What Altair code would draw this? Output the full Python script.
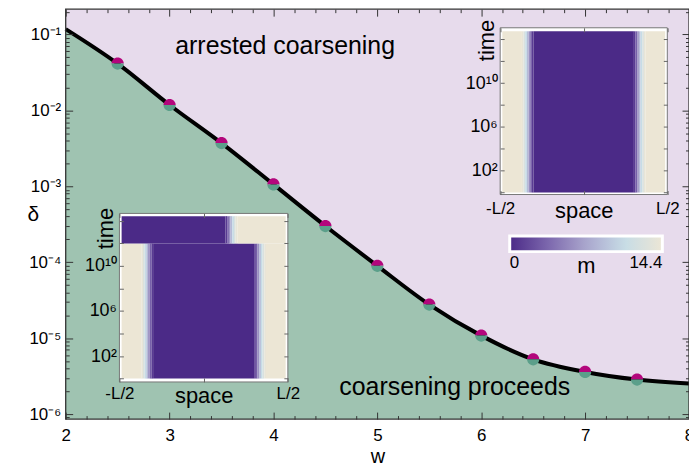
import math
import pandas as pd
import altair as alt

FONT = "Liberation Sans, Arial, Helvetica, sans-serif"

# ---------------- main diagram data ----------------
w_curve = [2.0, 2.5, 3.0, 3.5, 4.0, 4.5, 5.0, 5.5, 6.0, 6.5, 7.0, 7.5, 8.0]
delta_curve = [0.118, 0.0414, 0.0118, 0.00371, 0.00106, 0.000300, 8.97e-5,
               2.77e-5, 1.08e-5, 5.26e-6, 3.59e-6, 2.85e-6, 2.52e-6]

w_points = [2.5, 3.0, 3.5, 4.0, 4.5, 5.0, 5.5, 6.0, 6.5, 7.0, 7.5]
delta_points = [0.0414, 0.0118, 0.00371, 0.00106, 0.000300, 8.97e-5,
                2.77e-5, 1.08e-5, 5.26e-6, 3.59e-6, 2.85e-6]

region_labels = ["arrested coarsening", "coarsening proceeds"]
region_w = [4.112, 5.745]
region_delta = [0.0560, 1.77e-6]

w_domain = [2.0, 8.0]
delta_domain = [8.59e-7, 0.2158]
w_ticks = [2, 3, 4, 5, 6, 7, 8]
w_minor = [2.2, 2.4, 2.6, 2.8, 3.2, 3.4, 3.6, 3.8, 4.2, 4.4, 4.6, 4.8,
           5.2, 5.4, 5.6, 5.8, 6.2, 6.4, 6.6, 6.8, 7.2, 7.4, 7.6, 7.8]
delta_ticks = [1e-1, 1e-2, 1e-3, 1e-4, 1e-5, 1e-6]
delta_tick_labels = ["10⁻¹", "10⁻²", "10⁻³", "10⁻⁴", "10⁻⁵", "10⁻⁶"]
delta_minor = [k * 10.0 ** e for e in range(-7, 0) for k in range(2, 10)
               if delta_domain[0] <= k * 10.0 ** e <= delta_domain[1]]

# ---------------- inset data ----------------
space_label_ticks = [-0.5, 0.5]
space_tick_labels = ["-L/2", "L/2"]
space_ticks = [-0.5, 0.0, 0.5]
time_label_ticks = [1e2, 1e6, 1e10]
time_tick_labels = ["10²", "10⁶", "10¹⁰"]
time_ticks = [1e0, 1e2, 1e4, 1e6, 1e8, 1e10, 1e12, 1e14]

# spatial profiles of m (cell edges in units of L, value per cell)
profile_edges = [-0.487, -0.37, -0.36, -0.35, -0.34, -0.33, -0.32, -0.31, -0.30,
                 0.30, 0.31, 0.32, 0.33, 0.34, 0.35, 0.36, 0.37, 0.487]
profile_m = [14.4, 14.0, 12.6, 10.8, 8.6, 6.0, 3.2, 1.0, 0.0,
             1.0, 3.2, 6.0, 8.6, 10.8, 12.6, 14.0, 14.4]
late_edges = [-0.487, 0.13, 0.14, 0.15, 0.16, 0.17, 0.18, 0.19, 0.20, 0.487]
late_m = [0.0, 1.0, 3.2, 6.0, 8.6, 10.8, 12.6, 14.0, 14.4]

inset1_times = [1.0, 1e12, 10 ** 14.42]      # band edges: early profile, late profile
inset2_times = [1.0, 10 ** 14.73]

m_domain = [0.0, 3.6, 7.2, 10.8, 14.4]
m_colors = ["#4b2a87", "#7c67ad", "#aaa6cd", "#c6dce6", "#ece6d5"]

# ---------------- geometry ----------------
W, H = 626.5, 412
I1X, I1Y = [54.0, 223.3], [374.7, 205.3]
I2X, I2Y = [436.7, 604.7], [186.3, 18.7]
I1_TDOM = [10 ** -0.3, 10 ** 14.66]
I2_TDOM = [10 ** -0.18, 10 ** 15.05]

GREEN = "#9fc3b1"
LAV = "#e7dbec"
FRAME = "#333333"


def log_label_expr(values, labels):
    parts = ["round(log(datum.value)/LN10) == %d ? '%s'" % (round(math.log10(v)), l)
             for v, l in zip(values, labels)]
    return " : ".join(parts) + " : ''"


def lin_label_expr(values, labels):
    parts = ["abs(datum.value - (%g)) < 1e-6 ? '%s'" % (v, l) for v, l in zip(values, labels)]
    return " : ".join(parts) + " : ''"


def tick_axis(orient, offset, values, size, color=FRAME):
    return alt.Axis(orient=orient, offset=offset, values=values, labels=False,
                    domain=False, ticks=True, tickSize=size, tickColor=color,
                    tickWidth=1, grid=False, title=None, zindex=1)


# ---------------- data frames ----------------
curve_df = pd.DataFrame({"w": w_curve, "delta": delta_curve})
curve_df["base"] = delta_domain[0]
pts_df = pd.DataFrame({"w": w_points, "delta": delta_points})
txt_df = pd.DataFrame({"w": region_w, "delta": region_delta, "label": region_labels})
frame_df = pd.DataFrame({"w0": [w_domain[0]], "w1": [w_domain[1]],
                         "d0": [delta_domain[0]], "d1": [delta_domain[1]]})


def cells(edges, m, t0, t1):
    return [{"s0": edges[i], "s1": edges[i + 1], "t0": t0, "t1": t1, "m": m[i]}
            for i in range(len(m))]


inset1_df = pd.DataFrame(cells(profile_edges, profile_m, inset1_times[0], inset1_times[1])
                         + cells(late_edges, late_m, inset1_times[1], inset1_times[2]))
inset2_df = pd.DataFrame(cells(profile_edges, profile_m, inset2_times[0], inset2_times[1]))
box1_df = pd.DataFrame({"s0": [-0.5], "s1": [0.5], "t0": [I1_TDOM[0]], "t1": [I1_TDOM[1]]})
box2_df = pd.DataFrame({"s0": [-0.5], "s1": [0.5], "t0": [I2_TDOM[0]], "t1": [I2_TDOM[1]]})

# ---------------- scales ----------------
xs = alt.Scale(domain=w_domain, nice=False, zero=False)
ys = alt.Scale(type="log", domain=delta_domain, nice=False)
cscale = alt.Scale(domain=m_domain, range=m_colors, interpolate="rgb")


def sx(rng):
    return alt.Scale(domain=[-0.5, 0.5], range=rng, nice=False, zero=False)


def sy(dom, rng):
    return alt.Scale(type="log", domain=dom, range=rng, nice=False)


# ---------------- main layers ----------------
x_lab = alt.Axis(orient="bottom", values=w_ticks, format="d", ticks=False, tickSize=0,
                 domain=False, labelPadding=9, labelFontSize=17, labelFlush=False, grid=False,
                 title="w", titleFontSize=20, titleY=44, titleBaseline="alphabetic", zindex=1)
y_lab = alt.Axis(orient="left", values=delta_ticks, labelExpr=log_label_expr(delta_ticks, delta_tick_labels),
                 ticks=False, tickSize=0, domain=False, labelPadding=5, labelFontSize=17,
                 labelFlush=False, grid=False,
                 title="δ", titleFontSize=21, titleAngle=0, titleX=-33, titleY=206,
                 titleAlign="center", titleBaseline="middle", zindex=1)

area = alt.Chart(curve_df).mark_area(interpolate="monotone", color=GREEN, opacity=1).encode(
    x=alt.X("w:Q", scale=xs, axis=x_lab),
    y=alt.Y("delta:Q", scale=ys, axis=y_lab),
    y2="base:Q",
)


def ghost(ax_x, ax_y):
    return alt.Chart(curve_df).mark_point(opacity=0).encode(
        x=alt.X("w:Q", scale=xs, axis=ax_x),
        y=alt.Y("delta:Q", scale=ys, axis=ax_y),
    )


main_ticks = [
    ghost(tick_axis("top", -H, w_ticks, 7), tick_axis("right", -W, delta_ticks, 7)),
    ghost(tick_axis("bottom", -H, w_ticks, 7), tick_axis("left", -W, delta_ticks, 7)),
    ghost(tick_axis("top", -H, w_minor, 3.5), tick_axis("right", -W, delta_minor, 3.5)),
    ghost(tick_axis("bottom", -H, w_minor, 3.5), tick_axis("left", -W, delta_minor, 3.5)),
]

line = alt.Chart(curve_df).mark_line(interpolate="monotone", color="black", strokeWidth=4).encode(
    x=alt.X("w:Q", scale=xs, axis=None),
    y=alt.Y("delta:Q", scale=ys, axis=None),
)

TOP_HALF = "M-1,0A1,1,0,0,1,1,0Z"
BOTTOM_HALF = "M-1,0A1,1,0,0,0,1,0Z"
pts_top = alt.Chart(pts_df).mark_point(shape=TOP_HALF, filled=True, size=150, opacity=1,
                                       color="#b3067c", strokeWidth=0).encode(
    x=alt.X("w:Q", scale=xs, axis=None), y=alt.Y("delta:Q", scale=ys, axis=None))
pts_bot = alt.Chart(pts_df).mark_point(shape=BOTTOM_HALF, filled=True, size=150, opacity=1,
                                       color="#5b9f8a", strokeWidth=0).encode(
    x=alt.X("w:Q", scale=xs, axis=None), y=alt.Y("delta:Q", scale=ys, axis=None))

texts = alt.Chart(txt_df).mark_text(font=FONT, fontSize=25, color="black", align="center",
                                    baseline="alphabetic").encode(
    x=alt.X("w:Q", scale=xs, axis=None), y=alt.Y("delta:Q", scale=ys, axis=None), text="label:N")

frame = alt.Chart(frame_df).mark_rect(fillOpacity=0, stroke=FRAME, strokeWidth=1.3).encode(
    x=alt.X("w0:Q", scale=xs, axis=None), x2="w1:Q",
    y=alt.Y("d0:Q", scale=ys, axis=None), y2="d1:Q")

# ---------------- insets ----------------
legend = alt.Legend(orient="none", legendX=446.3, legendY=228, direction="horizontal",
                    gradientLength=153.4, gradientThickness=15.7, gradientStrokeColor="white",
                    gradientStrokeWidth=3, values=[0, 14.4], format=".1~f", labelFontSize=17,
                    labelOffset=3, title="m", titleOrient="bottom", titleAnchor="middle",
                    titleFontSize=22, titlePadding=2, titleBaseline="alphabetic", padding=0)


def inset(df, box_df, xr, yr, tdom, title_y, space_title_y, label_pad, show_legend):
    xsc = sx(xr)
    ysc = sy(tdom, yr)
    lab_x = alt.Axis(orient="bottom", offset=yr[0] - H, values=space_label_ticks,
                     labelExpr=lin_label_expr(space_label_ticks, space_tick_labels),
                     ticks=False, tickSize=0, domain=False, labelPadding=label_pad,
                     labelFontSize=17, labelFlush=False, grid=False, title="space",
                     titleFontSize=22, titleY=space_title_y, titleBaseline="alphabetic", zindex=1)
    lab_y = alt.Axis(orient="left", offset=-xr[0], values=time_label_ticks,
                     labelExpr=log_label_expr(time_label_ticks, time_tick_labels),
                     ticks=False, tickSize=0, domain=False, labelPadding=3,
                     labelFontSize=18, labelFlush=False, grid=False, title="time",
                     titleFontSize=22, titleAngle=270, titleX=-14, titleY=title_y,
                     titleAlign="center", titleBaseline="middle", zindex=1)
    box = alt.Chart(box_df).mark_rect(fill="white", stroke="#777777", strokeWidth=1).encode(
        x=alt.X("s0:Q", scale=xsc, axis=lab_x), x2="s1:Q",
        y=alt.Y("t0:Q", scale=ysc, axis=lab_y), y2="t1:Q")
    heat = alt.Chart(df).mark_rect().encode(
        x=alt.X("s0:Q", scale=xsc, axis=tick_axis("top", -yr[0], space_ticks, 4, "#666666")),
        x2="s1:Q",
        y=alt.Y("t0:Q", scale=ysc, axis=tick_axis("right", xr[0] - W, time_ticks, 4, "#666666")),
        y2="t1:Q",
        color=alt.Color("m:Q", scale=cscale, legend=legend if show_legend else None),
    )
    ghost_i = alt.Chart(box_df).mark_point(opacity=0).encode(
        x=alt.X("s0:Q", scale=xsc, axis=tick_axis("bottom", yr[1] - H, space_ticks, 4, "#666666")),
        y=alt.Y("t0:Q", scale=ysc, axis=tick_axis("left", -xr[1], time_ticks, 4, "#666666")),
    )
    return [box, heat, ghost_i]


inset1 = inset(inset1_df, box1_df, I1X, I1Y, I1_TDOM, 220, 20.3, 4, True)
inset2 = inset(inset2_df, box2_df, I2X, I2Y, I2_TDOM, 31, 23.4, 6, True)

chart = alt.layer(
    area, *main_ticks, line, pts_top, pts_bot, texts, *inset1, *inset2, frame
).resolve_scale(
    x="independent", y="independent", color="shared"
).resolve_axis(
    x="independent", y="independent"
).properties(
    width=W, height=H,
    autosize=alt.AutoSizeParams(type="none"),
    padding={"left": 58, "top": 0, "right": 0, "bottom": 48},
    background="white",
).configure_view(
    fill=LAV, stroke=None
).configure_axis(
    labelFont=FONT, titleFont=FONT, labelColor="black", titleColor="black",
    titleFontWeight="normal", grid=False
).configure_legend(
    labelFont=FONT, titleFont=FONT, labelColor="black", titleColor="black",
    titleFontWeight="normal"
)

chart.save("out.html", embed_options={"renderer": "svg", "actions": False})
